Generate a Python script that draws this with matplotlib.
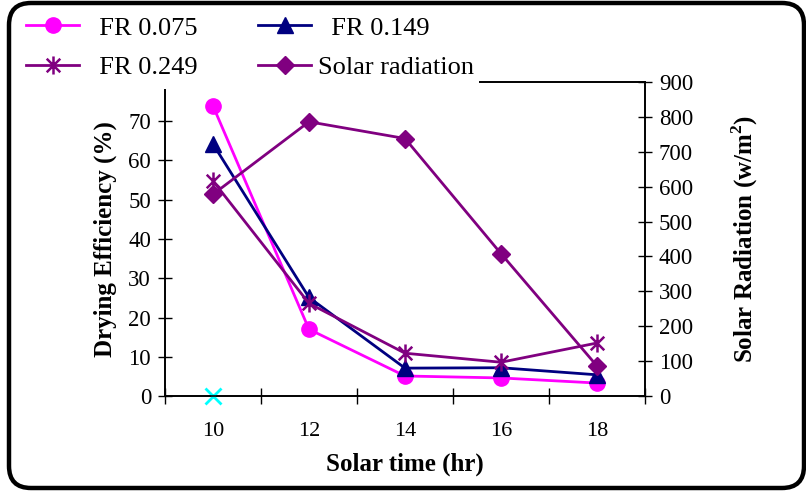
import matplotlib
matplotlib.use("Agg")
import matplotlib.pyplot as plt
import numpy as np
from matplotlib.path import Path
from matplotlib.patches import FancyBboxPatch, Rectangle
from matplotlib.ticker import FixedLocator, MultipleLocator, FuncFormatter

# data
times = ["10", "12", "14", "16", "18"]
fr075 = [73.9, 17.0, 5.1, 4.6, 3.3]
fr149 = [64.2, 25.1, 7.1, 7.2, 5.4]
fr249 = [54.8, 23.6, 10.9, 8.6, 13.5]
solar = [578, 786, 738, 408, 86]
stray_x = [0]       # the lone cyan cross at 10 h
stray_y = [0]

plt.rcParams['font.family'] = ['Liberation Serif', 'DejaVu Serif']
plt.rcParams['mathtext.fontset'] = 'custom'
plt.rcParams['mathtext.rm'] = 'Liberation Serif'
plt.rcParams['mathtext.bf'] = 'Liberation Serif:bold'

# excel style star: vertical bar plus an x
star = Path([(0, -1), (0, 1), (-0.75, -0.75), (0.75, 0.75), (-0.75, 0.75), (0.75, -0.75)],
            [Path.MOVETO, Path.LINETO, Path.MOVETO, Path.LINETO, Path.MOVETO, Path.LINETO])

fig = plt.figure(figsize=(8.06, 4.91), dpi=100)
ax = fig.add_axes([165 / 806, 95 / 491, 480 / 806, 314 / 491])
ax2 = ax.twinx()

x = np.arange(len(times))
lw = 2.0
l1, = ax.plot(x, fr075, color='#FF00FF', lw=lw, marker='o', ms=11, label='  FR 0.075', zorder=3)
l2, = ax.plot(x, fr149, color='#000080', lw=lw, marker='^', ms=11, label='  FR 0.149', zorder=3)
l3, = ax.plot(x, fr249, color='#800080', lw=lw, marker=star, ms=13, mew=1.8, label='  FR 0.249', zorder=3)
ax.plot(stray_x, stray_y, ls='none', marker='x', color='#00FFFF', ms=11, mew=2, clip_on=False, zorder=4)
l4, = ax2.plot(x, solar, color='#800080', lw=lw, marker='D', ms=9, label='Solar radiation', zorder=3)

ax.set_xlim(-0.5, len(times) - 0.5)
ax.set_ylim(0, 80)
ax2.set_ylim(0, 900)

ax.xaxis.set_major_locator(FixedLocator(np.arange(-0.5, len(times))))
ax.xaxis.set_minor_locator(FixedLocator(x))
ax.set_xticklabels([''] * (len(times) + 1))
ax.set_xticklabels(times, minor=True)
ax.tick_params(axis='x', which='major', direction='inout', length=11, width=1)
ax.tick_params(axis='x', which='minor', length=0, pad=19, labelsize=16)

ax.yaxis.set_major_locator(MultipleLocator(10))
# the 80 label sits under the legend in the reference
ax.yaxis.set_major_formatter(FuncFormatter(lambda v, p: '' if v >= 80 else f'{v:.0f}'))
ax.tick_params(axis='y', direction='inout', length=10, width=1, labelsize=16.5, pad=5)
ax2.yaxis.set_major_locator(MultipleLocator(100))
ax2.tick_params(axis='y', direction='inout', length=10, width=1, labelsize=16.5, pad=5)

for a in (ax, ax2):
    for s in a.spines.values():
        s.set_linewidth(1.2)

ax.set_xlabel('Solar time (hr)', fontsize=18, fontweight='bold', labelpad=8)
ax.set_ylabel('Drying Efficiency (%)', fontsize=18, fontweight='bold', labelpad=8)
ax2.set_ylabel(r'Solar Radiation (w/m$^\mathbf{2}$)', fontsize=18, fontweight='bold', labelpad=26)

# white legend area sits over the top-left of the plot, as in the excel chart
fig.patches.append(Rectangle((12, 491 - 89), 467, 80, transform=None,
                             facecolor='white', edgecolor='none', zorder=1))

# legend fills column-wise, so order gives rows: 0.075 | 0.149, 0.249 | solar
leg = fig.legend(handles=[l1, l3, l2, l4], loc='upper left', ncol=2,
                 bbox_to_anchor=(17 / 806, 1 - 7 / 491), fontsize=19,
                 frameon=False, handlelength=2.0, handletextpad=0.27, columnspacing=2.3,
                 labelspacing=0.6, borderpad=0.35, borderaxespad=0)
leg.set_zorder(5)

# rounded outer frame
frame = FancyBboxPatch((9, 3), 795, 485, boxstyle='round,pad=0,rounding_size=22',
                       transform=None, fill=False, edgecolor='black', linewidth=3.2, zorder=10)
fig.patches.append(frame)

plt.savefig('out.png', dpi=100)
